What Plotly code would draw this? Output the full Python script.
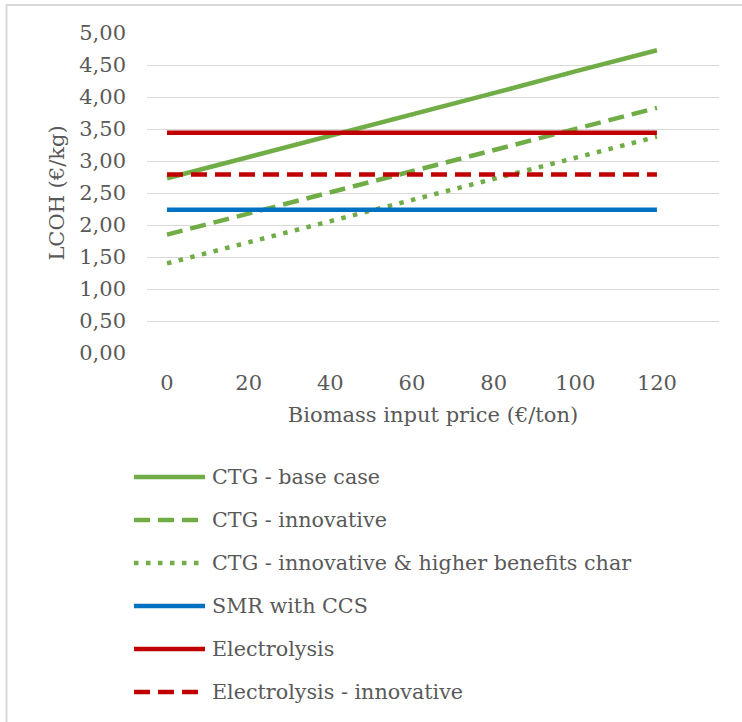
import plotly.graph_objects as go

price = [0, 20, 40, 60, 80, 100, 120]
ctg_base = [2.73, 3.06, 3.40, 3.73, 4.06, 4.40, 4.73]
ctg_innov = [1.85, 2.18, 2.51, 2.84, 3.17, 3.50, 3.83]
ctg_innov_char = [1.40, 1.73, 2.06, 2.39, 2.72, 3.05, 3.38]
smr_ccs = [2.24, 2.24, 2.24, 2.24, 2.24, 2.24, 2.24]
electrolysis = [3.44, 3.44, 3.44, 3.44, 3.44, 3.44, 3.44]
electrolysis_innov = [2.79, 2.79, 2.79, 2.79, 2.79, 2.79, 2.79]

y_ticks = [0, 0.5, 1, 1.5, 2, 2.5, 3, 3.5, 4, 4.5, 5]

GREEN = "#70ad47"
BLUE = "#0070c0"
RED = "#c00000"
FONT = "DejaVu Serif"
TXT = "#595959"
FS = 21

series = [
    ("CTG - base case", ctg_base, GREEN, "solid"),
    ("CTG - innovative", ctg_innov, GREEN, "16px,8px"),
    ("CTG - innovative & higher benefits char", ctg_innov_char, GREEN, "4.5px,7.5px"),
    ("SMR with CCS", smr_ccs, BLUE, "solid"),
    ("Electrolysis", electrolysis, RED, "solid"),
    ("Electrolysis - innovative", electrolysis_innov, RED, "16px,8px"),
]

W, H = 742, 722
L, R, T, B = 147, 23, 33, 369
PW, PH = W - L - R, H - T - B


def px_x(x):  # figure pixel -> paper
    return (x - L) / PW


def px_y(y):
    return (H - B - y) / PH


fig = go.Figure()
for name, vals, col, dash in series:
    fig.add_trace(go.Scatter(
        x=price, y=vals, name=name, mode="lines",
        line=dict(color=col, width=4.5, dash=dash),
        hoverinfo="skip", showlegend=False,
    ))

shapes = [dict(type="rect", xref="paper", yref="paper",
               x0=px_x(6.5), x1=px_x(W + 20), y0=px_y(H + 20), y1=px_y(5),
               line=dict(color="#d9d9d9", width=2), fillcolor="rgba(0,0,0,0)",
               layer="below")]
annotations = []
row0, row_gap = 477, 43
for i, (name, vals, col, dash) in enumerate(series):
    yy = px_y(row0 + i * row_gap)
    shapes.append(dict(type="line", xref="paper", yref="paper",
                       x0=px_x(134), x1=px_x(205), y0=yy, y1=yy,
                       line=dict(color=col, width=4.5, dash=dash)))
    annotations.append(dict(xref="paper", yref="paper", x=px_x(210), y=yy,
                            xanchor="left", yanchor="middle", showarrow=False,
                            text=name, font=dict(family=FONT, size=20.7, color=TXT)))

fig.update_layout(
    width=W, height=H,
    margin=dict(l=L, r=R, t=T, b=B, autoexpand=False),
    paper_bgcolor="white", plot_bgcolor="white",
    separators=",.",
    font=dict(family=FONT, size=FS, color=TXT),
    xaxis=dict(range=[-4.9, 135.2], tickvals=price, showgrid=False, zeroline=False,
               showline=False, ticks="", automargin=False, ticklabelstandoff=15,
               tickfont=dict(size=FS, color=TXT),
               title=dict(text="Biomass input price (€/ton)", standoff=13,
                          font=dict(size=FS, color=TXT))),
    yaxis=dict(range=[0, 5], tickvals=y_ticks, tickformat=".2f", showgrid=True,
               gridcolor="#d9d9d9", gridwidth=1.3, zeroline=False, showline=False,
               ticks="", automargin=False, ticklabelstandoff=20,
               tickfont=dict(size=FS, color=TXT),
               title=dict(text="LCOH (€/kg)", standoff=8,
                          font=dict(size=FS, color=TXT))),
    showlegend=False,
    shapes=shapes,
    annotations=annotations,
)

fig.write_html("out.html", config={"displayModeBar": False},
               post_script="document.body.style.margin='0';document.body.style.overflow='hidden';")
